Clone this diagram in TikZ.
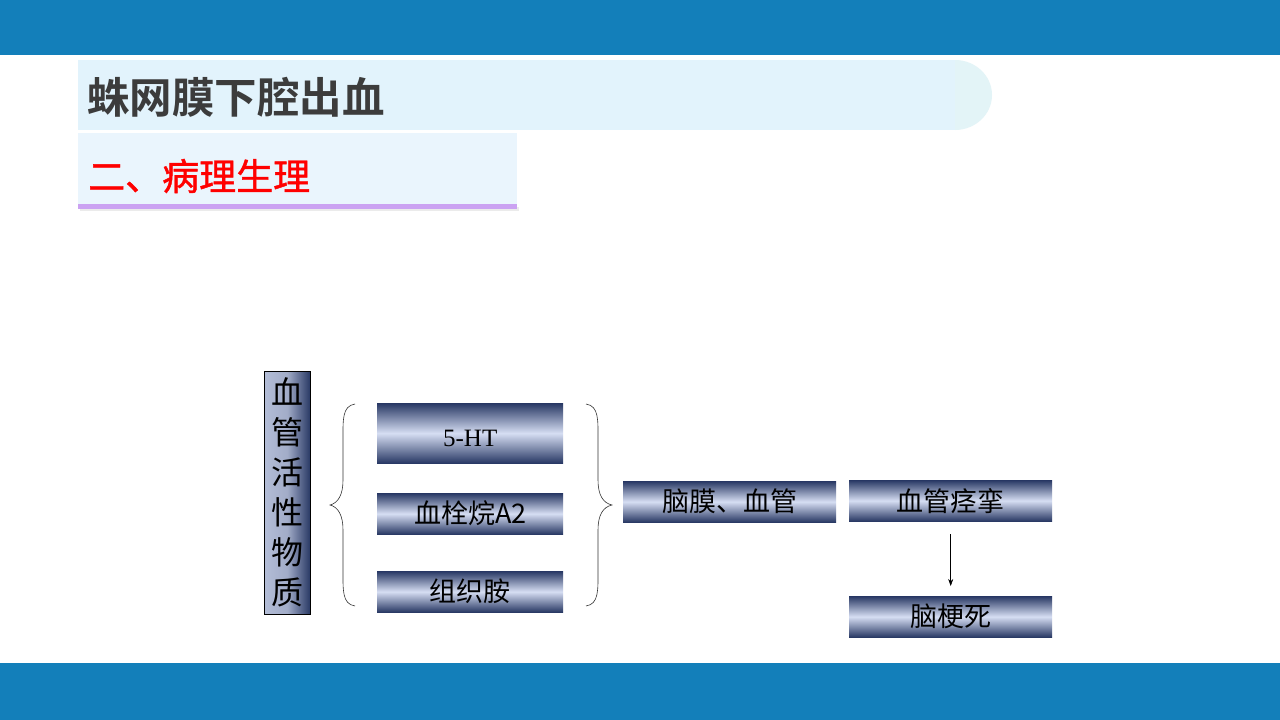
\documentclass[tikz,border=0pt]{standalone}
\usetikzlibrary{arrows.meta}
\usepackage{fontspec}
\setmainfont{Liberation Serif}
\newfontfamily\cjk{Noto Sans CJK SC}
\newfontfamily\cjkb{Noto Sans CJK SC Bold}
\newfontfamily\cjkm[FakeBold=1.2]{Noto Sans CJK SC}
\definecolor{barblue}{HTML}{137FBA}
\definecolor{band}{HTML}{E2F3FC}
\definecolor{bandtip}{HTML}{E3F4F7}
\definecolor{subband}{HTML}{EAF5FD}
\definecolor{lilac}{HTML}{CBA2F2}
\definecolor{navy}{HTML}{283864}
\definecolor{pale}{HTML}{D6DEF3}
\definecolor{titlegray}{HTML}{3C3C3C}
\begin{document}
\begin{tikzpicture}[x=1pt,y=-1pt,
  gbox/.style={inner sep=0pt, top color=navy, bottom color=navy, middle color=pale, font=\cjk\fontsize{27}{29}\selectfont},
  brc/.style={draw=black!80, line width=0.6pt}]
\useasboundingbox (0,0) rectangle (1280,720);
\fill[white] (0,0) rectangle (1280,720);
% bars
\fill[barblue] (0,0) rectangle (1280,55);
\fill[barblue] (0,663) rectangle (1280,720);
% title band
\fill[bandtip] (955,60) arc[start angle=-90, end angle=90, x radius=37, y radius=35] -- cycle;
\fill[band] (78,60) rectangle (955,130);
\node[anchor=west, text=titlegray, font=\cjkb\fontsize{42.5}{46}\selectfont, inner sep=0pt] (title) at (87,97) {蛛网膜下腔出血};
% subtitle band
\fill[black!8] (80,207) rectangle (519,211);
\fill[subband] (78,133) rectangle (517,206);
\fill[lilac] (78,204) rectangle (517,209);
\node[anchor=west, text=red, font=\cjkm\fontsize{37}{40}\selectfont, inner sep=0pt] (sub) at (88,176) {二、病理生理};
% vertical box
\node[draw=black, line width=0.6pt, inner sep=0pt, minimum width=46pt, minimum height=243pt, left color=pale!80!navy, right color=navy, middle color=pale!70!navy, anchor=north west] (vb) at (264,371) {};
\node[font=\cjk\fontsize{32}{40}\selectfont, align=center, inner sep=0pt] (vbt) at (vb.center) {血\\管\\活\\性\\物\\质};
% three boxes
\node[gbox, minimum width=186pt, minimum height=60pt, anchor=north west] (ht) at (377,403) {};
\node[font=\fontsize{25}{27}\selectfont, inner sep=0pt] at ([yshift=-5pt]ht.center) {5-HT};
\node[gbox, minimum width=186pt, minimum height=41pt, anchor=north west] (tx) at (377,493) {血栓烷A2};
\node[gbox, minimum width=186pt, minimum height=41pt, anchor=north west] (hm) at (377,571) {组织胺};
% braces
\draw[brc] (355,404) .. controls (342,406) and (343,420) .. (343,440) -- (343,480)
  .. controls (343,495) and (338,503) .. (330,505)
  .. controls (338,507) and (343,515) .. (343,530) -- (343,570)
  .. controls (343,590) and (342,604) .. (355,606);
\draw[brc] (586,404) .. controls (599,406) and (598,420) .. (598,440) -- (598,480)
  .. controls (598,495) and (603,503) .. (612,505)
  .. controls (603,507) and (598,515) .. (598,530) -- (598,570)
  .. controls (598,590) and (599,604) .. (586,606);
% right boxes
\node[gbox, minimum width=213pt, minimum height=41pt, anchor=north west] (nm) at (623,481) {脑膜、血管};
\node[gbox, minimum width=203pt, minimum height=41pt, anchor=north west] (jl) at (849,480) {血管痉挛};
\node[gbox, minimum width=203pt, minimum height=41pt, anchor=north west] (ng) at (849,596) {脑梗死};
\draw[-{Stealth[length=7pt,width=5pt]}, line width=0.6pt] ([yshift=-13pt]jl.south) -- ([yshift=10pt]ng.north);
\end{tikzpicture}
\end{document}
